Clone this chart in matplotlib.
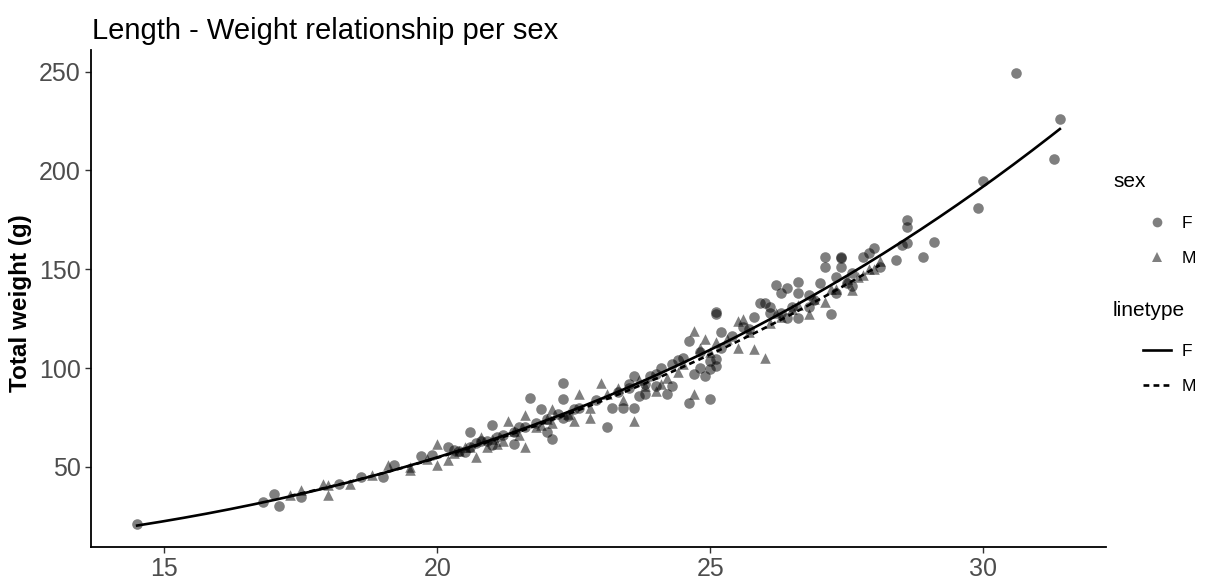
import numpy as np
import matplotlib
matplotlib.use("Agg")
import matplotlib.pyplot as plt
from matplotlib.lines import Line2D

plt.rcParams["font.family"] = ["Liberation Sans", "DejaVu Sans"]

# total length (cm) and total weight (g) per fish, by sex
f_length = [14.5, 16.8, 17.0, 17.1, 17.5, 18.2, 18.6, 19.0, 19.2, 19.7, 19.9, 20.3,
            20.5, 21.0, 21.4, 20.6, 21.0, 21.4, 21.7, 21.9, 22.0, 22.1, 22.3, 22.3,
            22.3, 22.5, 23.1, 23.2, 23.4, 23.6, 23.6, 23.7, 23.9, 24.1, 24.2, 24.3,
            24.3, 24.6, 24.7, 24.6, 24.9, 25.0, 25.0, 25.0, 25.1, 25.1, 25.1, 25.1,
            25.9, 26.0, 26.2, 26.3, 26.4, 26.4, 26.6, 26.6, 26.6, 26.9, 27.0, 27.1,
            27.1, 27.2, 27.3, 27.4, 27.4, 27.4, 27.5, 27.6, 27.8, 27.9, 28.0, 28.1,
            28.4, 28.5, 28.6, 28.6, 28.6, 28.9, 29.1, 29.9, 30.0, 30.6, 31.3, 31.4,
            20.2, 20.8, 21.2, 21.5, 21.8, 22.2, 22.6, 22.9, 23.3, 23.5, 23.8, 24.0,
            24.4, 24.8, 25.4, 25.7, 26.1, 26.5, 26.8, 27.6,
            20.4, 20.6, 20.9, 21.1, 20.7, 21.6, 22.0, 22.4, 23.5, 23.8, 24.0, 24.5,
            24.8, 25.2, 25.2, 25.6, 25.8, 26.1, 26.3, 26.8, 27.3]
f_weight = [20.9, 32.1, 36.2, 30.1, 34.7, 41.3, 44.9, 44.9, 51.0, 55.6, 56.1, 58.7,
            57.7, 61.2, 61.7, 67.9, 71.4, 67.9, 84.7, 79.1, 67.9, 64.3, 92.3, 84.2,
            74.5, 79.1, 70.4, 79.6, 79.6, 79.6, 95.9, 85.7, 95.9, 100.0, 86.7, 102.0,
            90.8, 113.8, 96.9, 82.1, 95.9, 103.6, 99.5, 84.2, 127.6, 128.5, 104.6, 101.0,
            133.0, 133.0, 141.8, 137.8, 125.5, 140.3, 143.4, 137.8, 125.5, 134.2, 142.9, 156.1,
            151.0, 127.6, 145.9, 156.1, 155.6, 151.0, 142.9, 141.5, 156.1, 158.2, 160.7, 151.0,
            154.6, 162.2, 163.5, 171.4, 175.0, 156.1, 163.8, 181.1, 194.4, 249.5, 206.0, 226.0,
            60.0, 63.0, 66.0, 70.0, 72.0, 77.0, 80.0, 84.0, 88.0, 90.0, 92.0, 97.0,
            104.0, 108.0, 116.0, 120.0, 128.0, 131.0, 137.0, 148.0,
            58.0, 60.0, 63.0, 65.0, 62.0, 70.0, 74.0, 76.0, 92.0, 87.0, 91.0, 105.0,
            100.0, 118.0, 110.0, 121.0, 126.0, 131.0, 128.0, 131.0, 138.0]

m_length = [17.3, 17.5, 17.9, 18.0, 18.0, 18.4, 18.8, 19.1, 19.5, 19.5, 20.0, 20.0,
            20.2, 20.7, 20.8, 21.1, 21.3, 21.6, 21.6, 22.1, 22.5, 22.6, 22.8, 22.8,
            23.0, 23.1, 23.3, 23.6, 24.0, 24.7, 24.7, 24.9, 25.3, 25.5, 25.5, 25.6,
            25.8, 26.0, 26.8, 27.1, 27.6,
            19.8, 20.4, 20.6, 21.0, 21.4, 21.8, 22.0, 22.4, 23.4, 23.8, 24.2, 24.5,
            25.0, 26.2, 26.5, 27.3, 27.8, 28.0,
            20.3, 20.5, 21.2, 20.9, 21.5, 21.9, 22.1, 23.7, 24.1, 24.4, 24.8, 25.1,
            25.7, 26.1, 26.3, 26.6, 26.9, 27.2, 27.5, 27.7, 27.9, 28.1]
m_weight = [35.7, 38.3, 41.3, 35.7, 40.8, 41.3, 45.9, 51.0, 50.0, 48.5, 61.7, 51.0,
            53.6, 55.1, 65.3, 61.7, 73.0, 76.5, 60.2, 79.1, 73.0, 86.7, 74.5, 79.6,
            92.3, 86.7, 89.8, 73.0, 88.3, 118.9, 86.7, 114.8, 114.8, 124.0, 110.2, 125.0,
            109.7, 105.0, 127.6, 133.2, 139.3,
            54.0, 58.0, 60.0, 64.0, 68.0, 70.0, 74.0, 77.0, 84.0, 91.0, 95.0, 102.0,
            108.0, 128.0, 130.0, 140.0, 147.0, 150.0,
            57.0, 60.0, 63.0, 60.0, 66.0, 71.0, 72.0, 94.0, 92.0, 98.0, 110.0, 113.0,
            118.0, 123.0, 126.0, 132.0, 135.0, 140.0, 145.0, 146.0, 150.0, 154.0]

sexes = ["F", "M"]
markers = {"F": "o", "M": "^"}
linestyles = {"F": "-", "M": (0, (2.2, 1.6))}
data = {"F": (np.array(f_length), np.array(f_weight)),
        "M": (np.array(m_length), np.array(m_weight))}

W_PX, H_PX = 1226, 581
fig = plt.figure(figsize=(W_PX / 100, H_PX / 100), dpi=100)
ax = fig.add_axes([91 / W_PX, 1 - 547 / H_PX, (1106 - 91) / W_PX, (547 - 50) / H_PX])

for sex in sexes:
    L, W = data[sex]
    ax.scatter(L, W, marker=markers[sex], s=58, color="black", alpha=0.5,
               linewidths=0, zorder=2)

# W = a * L^b fitted on the log scale for each sex
for sex in sexes:
    L, W = data[sex]
    b, log_a = np.polyfit(np.log(L), np.log(W), 1)
    xs = np.linspace(L.min(), L.max(), 200)
    ax.plot(xs, np.exp(log_a) * xs ** b, color="black", lw=1.9,
            linestyle=linestyles[sex], zorder=3)

all_l = np.concatenate([data[s][0] for s in sexes])
all_w = np.concatenate([data[s][1] for s in sexes])
pad_x = 0.05 * (all_l.max() - all_l.min())
pad_y = 0.05 * (all_w.max() - all_w.min())
ax.set_xlim(all_l.min() - pad_x, all_l.max() + pad_x)
ax.set_ylim(all_w.min() - pad_y, all_w.max() + pad_y)

ax.set_xticks([15, 20, 25, 30])
ax.set_yticks([50, 100, 150, 200, 250])
ax.tick_params(labelsize=18, colors="#333333", labelcolor="#4D4D4D",
               length=4.5, width=1.0, pad=3)
for side in ("top", "right"):
    ax.spines[side].set_visible(False)
for side in ("left", "bottom"):
    ax.spines[side].set_linewidth(1.3)

fig.text(92 / W_PX, 1 - 39 / H_PX, "Length - Weight relationship per sex",
         fontsize=21, color="black", ha="left", va="baseline")
fig.text(21 / W_PX, 1 - 303 / H_PX, "Total weight (g)", fontsize=17.5,
         fontweight="bold", rotation=90, ha="center", va="center")

# legend blocks: title on the left, keys indented beneath it
fig.text(1113 / W_PX, 1 - 187 / H_PX, "sex", fontsize=15, va="baseline")
fig.text(1113 / W_PX, 1 - 316 / H_PX, "linetype", fontsize=15, va="baseline")

sex_handles = [Line2D([], [], marker=markers[s], linestyle="none", color="black",
                      alpha=0.5, markersize=7, markeredgewidth=0) for s in sexes]
fig.legend(sex_handles, sexes, loc="upper left",
           bbox_to_anchor=(1143 / W_PX, 1 - 216 / H_PX), frameon=False,
           fontsize=12.5, handlelength=1.6, handletextpad=0.6,
           labelspacing=1.15, borderpad=0, borderaxespad=0)

lt_handles = [Line2D([], [], color="black", lw=1.9, linestyle=linestyles[s])
              for s in sexes]
fig.legend(lt_handles, sexes, loc="upper left",
           bbox_to_anchor=(1143 / W_PX, 1 - 344 / H_PX), frameon=False,
           fontsize=12.5, handlelength=1.6, handletextpad=0.6,
           labelspacing=1.15, borderpad=0, borderaxespad=0)

fig.savefig("out.png", dpi=100)
